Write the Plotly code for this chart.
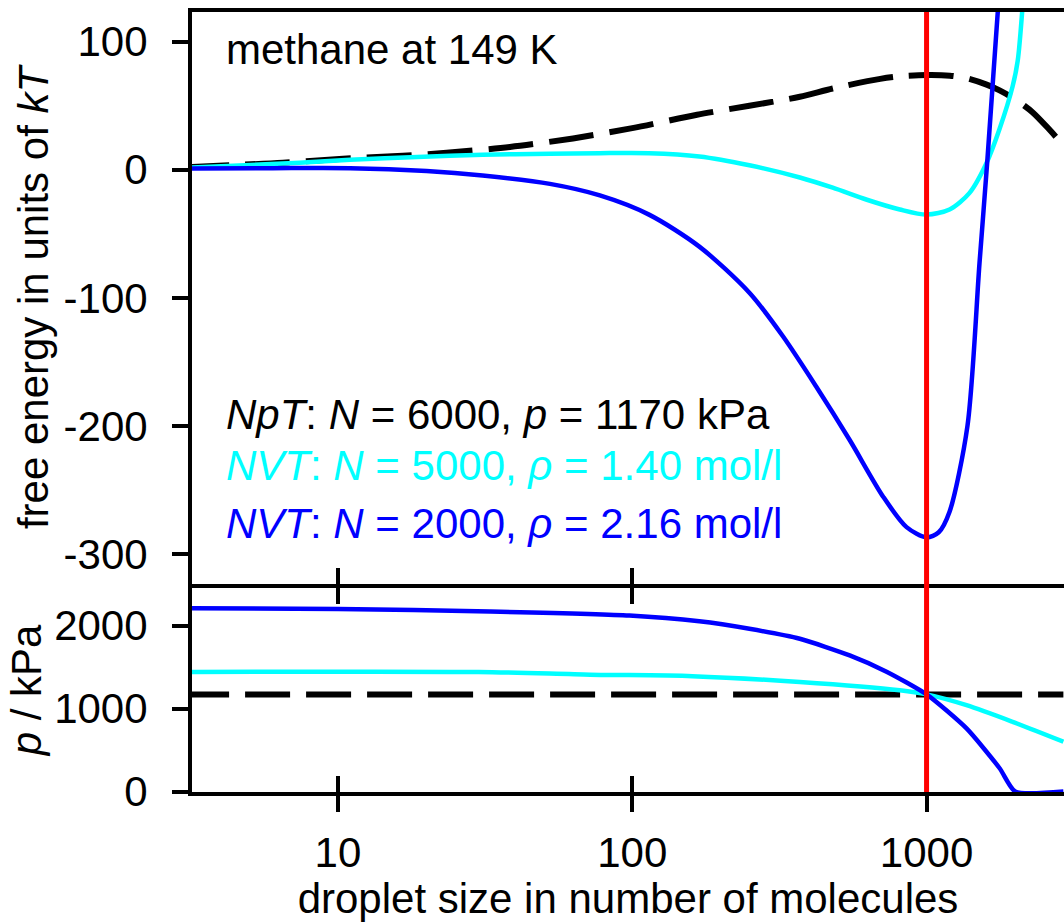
import plotly.graph_objects as go

FONT = "Liberation Sans, Arial, Helvetica, sans-serif"
FS = 42

# ---- free energy of droplet formation (units of kT) vs droplet size N ----
n_npt = [3, 6.5, 10.4, 16.6, 23.4, 38.4, 62.9, 100, 166, 250, 371, 480, 696, 812, 1000,
         1200, 1367, 1600, 1771, 2000, 2290, 2600, 2917]
f_npt = [2, 5.5, 8.6, 10.9, 13.3, 17.8, 24.5, 32.5, 43, 50, 57, 63.5, 71, 73, 74,
         73.5, 71.5, 66.5, 62, 55, 45, 32, 19]

n_nvt5000 = [3, 7.4, 11, 18.6, 31, 52.5, 77.6, 114, 169, 250, 371, 480, 627, 811, 1000,
             1197, 1400, 1600, 1771, 1960, 2040, 2120]
f_nvt5000 = [1.5, 5.5, 7.8, 10, 11.7, 12.5, 13, 13, 10.4, 3.5, -6, -14, -23.4, -31, -35,
             -31, -18, 5.5, 32, 65, 85, 128]

n_nvt2000 = [3, 6, 11, 20, 31, 52.5, 77.6, 114, 169, 250, 325, 421, 548, 711, 855, 1000,
             1100, 1197, 1377, 1513, 1611, 1760]
f_nvt2000 = [1, 1.3, 1.3, -1, -4.5, -11, -20, -35, -60, -96, -130, -169, -211, -255, -279, -287,
             -283, -267, -200, -73, 9, 135]

# ---- vapour pressure (kPa) vs droplet size N ----
n_p_npt = [3, 2917]
p_npt = [1170, 1170]

n_p5000 = [3, 30, 72, 160, 371, 811, 1000, 1367, 1960, 2917]
p_5000 = [1440, 1440, 1408, 1390, 1320, 1220, 1170, 1040, 840, 600]

n_p2000 = [3, 10, 32.8, 97.8, 169, 250, 371, 548, 731, 1000, 1367, 1771, 2000, 2917]
p_2000 = [2209, 2200, 2168, 2120, 2050, 1960, 1840, 1640, 1444, 1170, 760, 280, 0, 0]

# critical droplet size
n_crit = 1000

x_ticks = [10, 100, 1000]
x_ticktext = ["10", "100", "1000"]
f_ticks = [-300, -200, -100, 0, 100]
f_ticktext = ["-300", "-200", "-100", "0", "100"]
p_ticks = [0, 1000, 2000]
p_ticktext = ["0", "1000", "2000"]

BLACK, CYAN, BLUE, RED = "#000000", "#00FFFF", "#0000FF", "#FF0000"

W, H = 1064, 922
ML, MR, MT, MB = 192, 0, 12, 130
plot_h = H - MT - MB
top_bottom_px = 584
bot_top_px = 588
dom_top = [(H - MB - top_bottom_px) / plot_h, 1.0]
dom_bot = [0.0, (H - MB - bot_top_px) / plot_h]

DASH = "45px,16px"
LW = 4.5

fig = go.Figure()

# top panel: free energy
fig.add_trace(go.Scatter(x=n_npt, y=f_npt, xaxis="x2", yaxis="y2", mode="lines",
                         line=dict(color=BLACK, width=6, dash=DASH, shape="spline", smoothing=0.8)))
fig.add_trace(go.Scatter(x=n_nvt5000, y=f_nvt5000, xaxis="x2", yaxis="y2", mode="lines",
                         line=dict(color=CYAN, width=LW, shape="spline", smoothing=0.8)))
fig.add_trace(go.Scatter(x=n_nvt2000, y=f_nvt2000, xaxis="x2", yaxis="y2", mode="lines",
                         line=dict(color=BLUE, width=LW, shape="spline", smoothing=0.8)))

# bottom panel: pressure
fig.add_trace(go.Scatter(x=n_p_npt, y=p_npt, xaxis="x", yaxis="y", mode="lines",
                         line=dict(color=BLACK, width=6, dash=DASH)))
fig.add_trace(go.Scatter(x=n_p5000, y=p_5000, xaxis="x", yaxis="y", mode="lines",
                         line=dict(color=CYAN, width=LW, shape="spline", smoothing=0.8)))
fig.add_trace(go.Scatter(x=n_p2000, y=p_2000, xaxis="x", yaxis="y", mode="lines",
                         line=dict(color=BLUE, width=LW, shape="spline", smoothing=0.6)))
# empty trace to bring up the overlay axis carrying the inner bottom ticks
fig.add_trace(go.Scatter(x=[], y=[], xaxis="x3", yaxis="y", mode="lines", showlegend=False))

x_range = [0.504, 3.467]
f_range = [-323.4, 123.2]
p_range = [-6, 2452]

common_x = dict(type="log", range=x_range, tickvals=x_ticks, ticktext=x_ticktext,
                showgrid=False, zeroline=False, ticklen=16, tickwidth=4, tickcolor=BLACK,
                linecolor=BLACK, linewidth=4, layer="below traces")

tick_font = dict(family=FONT, size=FS, color=BLACK)

fig.update_layout(
    width=W, height=H,
    margin=dict(l=ML, r=MR, t=MT, b=MB),
    paper_bgcolor="white", plot_bgcolor="white",
    showlegend=False,
    font=dict(family=FONT, size=FS, color=BLACK),
    xaxis=dict(**common_x, domain=[0, 1], anchor="y", showline=True, mirror="ticks",
               ticks="outside", showticklabels=True, tickfont=tick_font,
               ticklabelstandoff=5,
               title=dict(text="droplet size in number of molecules", font=tick_font, standoff=12)),
    xaxis2=dict(**common_x, domain=[0, 1], anchor="y2", matches="x", showline=True, mirror=True,
                ticks="outside", showticklabels=False),
    xaxis3=dict(**common_x, overlaying="x", anchor="y", showline=False,
                ticks="inside", showticklabels=False),
    yaxis=dict(domain=dom_bot, anchor="x", range=p_range, tickvals=p_ticks, ticktext=p_ticktext,
               showgrid=False, zeroline=False, showline=True, linecolor=BLACK, linewidth=4,
               ticks="outside", ticklen=16, tickwidth=4, tickcolor=BLACK, tickfont=tick_font,
               ticklabelstandoff=16, layer="below traces",
               title=dict(text="<i>p</i> / kPa", font=tick_font, standoff=0)),
    yaxis2=dict(domain=dom_top, anchor="x2", range=f_range, tickvals=f_ticks, ticktext=f_ticktext,
                showgrid=False, zeroline=False, showline=True, linecolor=BLACK, linewidth=4,
                ticks="outside", ticklen=16, tickwidth=4, tickcolor=BLACK, tickfont=tick_font,
                ticklabelstandoff=16, layer="below traces",
                title=dict(text="free energy in units of <i>kT</i>", font=tick_font, standoff=3)),
    shapes=[dict(type="line", xref="x", yref="paper", x0=n_crit, x1=n_crit, y0=0, y1=1,
                 line=dict(color=RED, width=5), layer="above")],
)


def px_to_paper_y(py):
    return (H - MB - py) / plot_h


def px_to_paper_x(px):
    return (px - ML) / (W - ML - MR)


labels = [
    ("methane at 149 K", BLACK, 49),
    ("<i>NpT</i>: <i>N</i> = 6000, <i>p</i> = 1170 kPa", BLACK, 415),
    ("<i>NVT</i>: <i>N</i> = 5000, <i>ρ</i> = 1.40 mol/l", CYAN, 466),
    ("<i>NVT</i>: <i>N</i> = 2000, <i>ρ</i> = 2.16 mol/l", BLUE, 523),
]
for text, color, py in labels:
    fig.add_annotation(text=text, xref="paper", yref="paper",
                       x=px_to_paper_x(224), y=px_to_paper_y(py),
                       xanchor="left", yanchor="middle", showarrow=False,
                       font=dict(family=FONT, size=FS, color=color))

fig.write_html("out.html")
